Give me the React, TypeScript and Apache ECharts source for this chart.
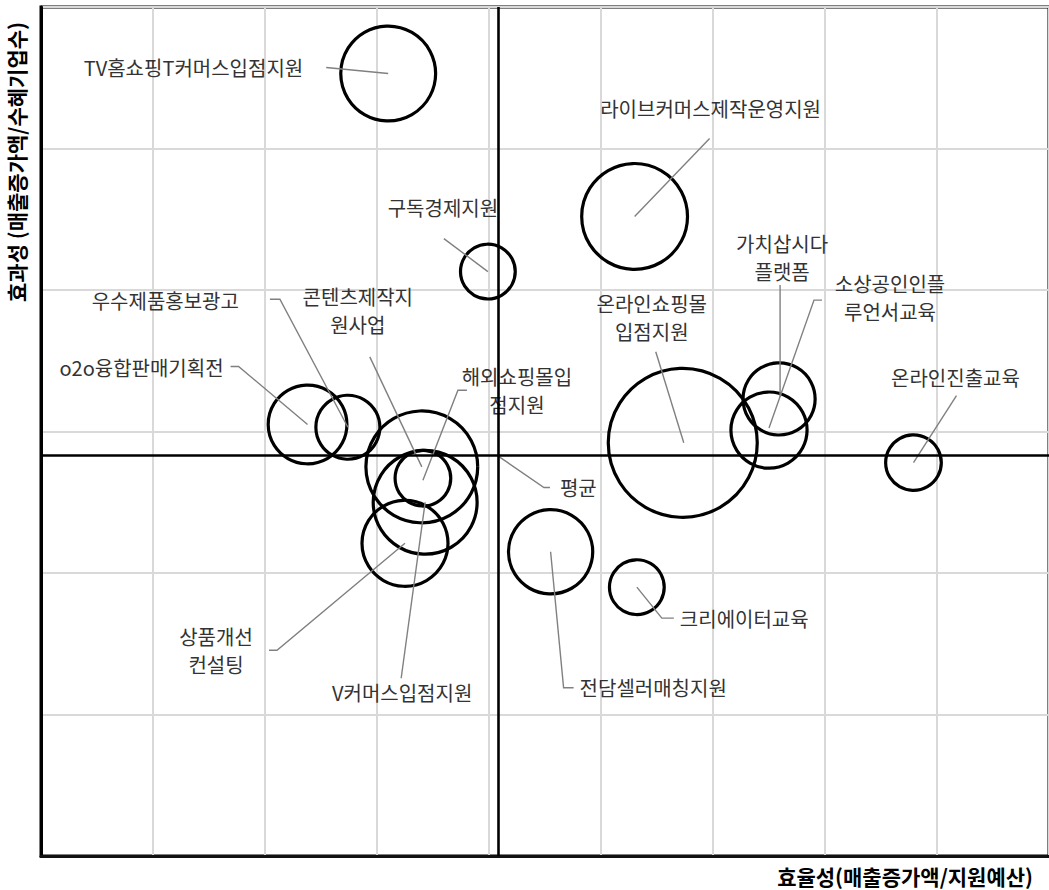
import React, { useEffect, useRef } from "react";
import * as echarts from "echarts";

// ---- data ----
const NAMES = [
  "TV홈쇼핑T커머스입점지원",
  "라이브커머스제작운영지원",
  "구독경제지원",
  "우수제품홍보광고",
  "o2o융합판매기획전",
  "콘텐츠제작지\n원사업",
  "해외쇼핑몰입\n점지원",
  "V커머스입점지원",
  "상품개선\n컨설팅",
  "전담셀러매칭지원",
  "크리에이터교육",
  "온라인쇼핑몰\n입점지원",
  "가치삽시다\n플랫폼",
  "소상공인인플\n루언서교육",
  "온라인진출교육",
];
// 효율성 (x)
const EFFICIENCY = [3.1, 5.3, 3.99, 2.74, 2.38, 3.4, 3.41, 3.43, 3.25, 4.55, 5.32, 5.73, 6.59, 6.5, 7.79];
// 효과성 (y)
const EFFECTIVENESS = [5.53, 4.52, 4.13, 3.03, 3.05, 2.75, 2.67, 2.5, 2.21, 2.15, 1.9, 2.92, 3.23, 3.01, 2.78];
// bubble value (budget)
const BUDGET = [90, 112, 30, 41, 62, 125, 31, 108, 74, 71, 30, 222, 52, 58, 31];
const MEAN_X = 4.08;
const MEAN_Y = 2.83;
const MEAN_LABEL = "평균";
const X_MIN = 0, X_MAX = 9, X_STEP = 1;
const Y_MIN = 0, Y_MAX = 6, Y_STEP = 1;
const X_TITLE = "효율성(매출증가액/지원예산)";
const Y_TITLE = "효과성 (매출증가액/수혜기업수)";

// ---- label layout (pixel offsets from bubble centre) ----
type Layout = { leader: number[][]; at: number[]; align: string };
const LAYOUT: Layout[] = [
  { leader: [[-62, -6], [0, 0]], at: [-85, -6], align: "right" },
  { leader: [[75, -78], [0, 0]], at: [76, -108], align: "center" },
  { leader: [[-44, -33], [0, 0]], at: [-45, -64], align: "center" },
  { leader: [[-78, -128], [-68, -128], [0, 0]], at: [-109, -127], align: "right" },
  { leader: [[-77, -58], [-69, -58], [0, 0]], at: [-84, -57], align: "right" },
  { leader: [[-52, -110], [0, 0]], at: [-64, -156], align: "center" },
  { leader: [[44, -88], [35, -88], [0, 2]], at: [94, -88], align: "center" },
  { leader: [[0, 0], [-24, 176]], at: [-23, 190], align: "center" },
  { leader: [[0, 0], [-128, 107], [-136, 107]], at: [-189, 107], align: "center" },
  { leader: [[0, 0], [13, 136], [23, 136]], at: [29, 136], align: "left" },
  { leader: [[0, 0], [25, 31], [37, 31]], at: [43, 31], align: "left" },
  { leader: [[-27, -91], [1, 0]], at: [-31, -125], align: "center" },
  { leader: [[1, -114], [1, -2]], at: [3, -141], align: "center" },
  { leader: [[53, -130], [45, -130], [0, -2]], at: [121, -133], align: "center" },
  { leader: [[43, -67], [0, 0]], at: [42, -85], align: "center" },
];
const MEAN_LAYOUT: Layout = { leader: [[1, 1], [46, 32], [52, 32]], at: [62, 32], align: "left" };

const FONT = '"Noto Sans CJK KR", "Noto Sans", sans-serif';

export default function App() {
  const ref = useRef<HTMLDivElement>(null);
  useEffect(() => {
    if (!ref.current) return;
    const chart = echarts.init(ref.current, null, { renderer: "svg" });

    const bubbleData = NAMES.map((n, i) => ({
      name: n,
      value: [EFFICIENCY[i], EFFECTIVENESS[i], BUDGET[i]],
    }));

    const labelData = NAMES.map((n, i) => [EFFICIENCY[i], EFFECTIVENESS[i], i]);
    labelData.push([MEAN_X, MEAN_Y, -1]);

    const renderItem = (params: any, api: any) => {
      const idx = api.value(2);
      const c = api.coord([api.value(0), api.value(1)]);
      const lay = idx < 0 ? MEAN_LAYOUT : LAYOUT[idx];
      const text = idx < 0 ? MEAN_LABEL : NAMES[idx];
      return {
        type: "group",
        children: [
          {
            type: "polyline",
            shape: { points: lay.leader.map((p) => [c[0] + p[0], c[1] + p[1]]) },
            style: { stroke: "#808080", lineWidth: 1.4, fill: null },
            silent: true,
          },
          {
            type: "text",
            x: c[0] + lay.at[0],
            y: c[1] + lay.at[1],
            style: {
              text,
              fill: "#333333",
              font: `20px ${FONT}`,
              align: lay.align,
              verticalAlign: "middle",
              lineHeight: 28,
            },
            silent: true,
          },
        ],
      };
    };

    chart.setOption({
      animation: false,
      backgroundColor: "#fff",
      grid: {
        left: 41,
        top: 7,
        width: 1014,
        height: 849,
        show: true,
        borderColor: "#000",
        borderWidth: 3,
        backgroundColor: "transparent",
      },
      xAxis: {
        type: "value",
        min: X_MIN,
        max: X_MAX,
        interval: X_STEP,
        axisLabel: { show: false },
        axisTick: { show: false },
        axisLine: { show: true, lineStyle: { color: "#111", width: 3 } },
        splitLine: { show: true, lineStyle: { color: "#d9d9d9", width: 2 } },
      },
      yAxis: {
        type: "value",
        min: Y_MIN,
        max: Y_MAX,
        interval: Y_STEP,
        axisLabel: { show: false },
        axisTick: { show: false },
        axisLine: { show: true, lineStyle: { color: "#000", width: 3 } },
        splitLine: { show: true, lineStyle: { color: "#d9d9d9", width: 2 } },
      },
      graphic: [
        {
          type: "text",
          x: 16,
          y: 162,
          rotation: Math.PI / 2,
          style: {
            text: Y_TITLE,
            fill: "#000",
            font: `bold 21px ${FONT}`,
            align: "center",
            verticalAlign: "middle",
          },
        },
        {
          type: "text",
          x: 1033,
          y: 876,
          style: {
            text: X_TITLE,
            fill: "#000",
            font: `bold 21px ${FONT}`,
            align: "right",
            verticalAlign: "middle",
          },
        },
      ],
      series: [
        {
          type: "scatter",
          data: bubbleData,
          symbol: "circle",
          symbolSize: (v: number[]) => Math.sqrt(v[2]) * 10,
          itemStyle: {
            color: "rgba(255,255,255,0)",
            borderColor: "#000",
            borderWidth: 3.2,
            opacity: 1,
          },
          emphasis: { disabled: true },
          silent: true,
          z: 3,
          markLine: {
            silent: true,
            symbol: "none",
            label: { show: false },
            lineStyle: { color: "#000", width: 2.6, type: "solid", opacity: 1 },
            data: [{ xAxis: MEAN_X }, { yAxis: MEAN_Y }],
          },
        },
        {
          type: "custom",
          data: labelData,
          encode: { x: 0, y: 1 },
          renderItem,
          clip: false,
          silent: true,
          z: 4,
        },
      ],
    });
    return () => chart.dispose();
  }, []);

  return (
    <div
      ref={ref}
      style={{ position: "absolute", left: 0, top: 0, width: 1049, height: 890 }}
    />
  );
}
